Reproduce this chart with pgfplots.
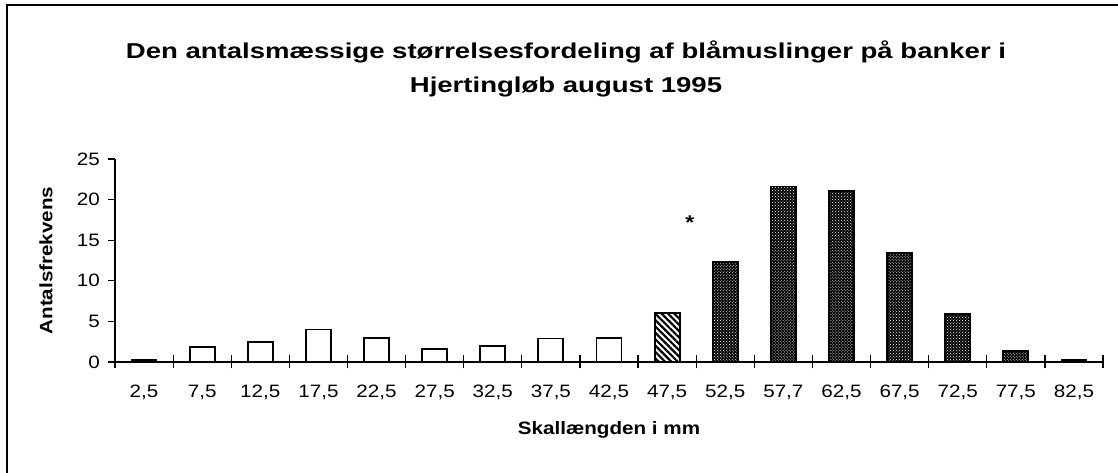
\documentclass[border=0pt]{standalone}
\usepackage{fontspec}
\setmainfont{Liberation Sans}[FakeStretch=1.15]
\newfontfamily\titlefont{Liberation Sans}[FakeStretch=1.28]
\usepackage{pgfplots}
\pgfplotsset{compat=1.18}
\usetikzlibrary{patterns,patterns.meta}

\pgfplotstableread{
x y
0 0.2
1 1.85
2 2.5
3 4.0
4 2.95
5 1.6
6 2.0
7 2.9
8 3.0
}\whitebars
\pgfplotstableread{
x y
9 6.0
}\hatchbars
\pgfplotstableread{
x y
10 12.3
11 21.6
12 21.1
13 13.4
14 5.9
15 1.4
16 0.25
}\dotbars

\begin{document}
\begin{tikzpicture}[x=1bp,y=1bp]
\path[use as bounding box] (0,0) rectangle (1118,473);
\draw[line width=2bp] (7,0) -- (7,468) -- (1118,468);
\node[font=\fontsize{21.6}{24}\titlefont\bfseries] at (566,421) {Den antalsmæssige størrelsesfordeling af blåmuslinger på banker i};
\node[font=\fontsize{21.6}{24}\titlefont\bfseries] at (566,386) {Hjertingløb august 1995};
\begin{axis}[
  at={(115bp,111bp)}, anchor=south west,
  scale only axis, width=988bp, height=203bp,
  xmin=-0.5, xmax=16.5, ymin=0, ymax=25,
  axis x line=bottom, axis y line=left,
  axis line style={line width=1.2bp,-},
  xtick={-0.5,0.5,...,16.5},
  x tick label as interval,
  xticklabels={{2,5},{7,5},{12,5},{17,5},{22,5},{27,5},{32,5},{37,5},{42,5},{47,5},{52,5},{57,7},{62,5},{67,5},{72,5},{77,5},{82,5}},
  ytick={0,5,...,25},
  tick align=outside,
  major tick length=7bp,
  tick style={line width=1.2bp, black},
  x tick style={/pgfplots/major tick length=13bp, yshift=6.5bp},
  /pgf/number format/assume math mode=true,
  ticklabel style={font=\fontsize{18}{20}\selectfont, inner sep=0pt},
  x tick label style={yshift=-16bp},
  y tick label style={xshift=-8bp},
  xlabel={Skallængden i mm},
  ylabel={Antalsfrekvens},
  label style={font=\fontsize{18}{20}\selectfont\bfseries},
  xlabel style={at={(axis description cs:0.5,-0.335)}, anchor=center},
  ylabel style={at={(axis description cs:-0.0698,0.5)}, anchor=center},
  ybar, bar width=25bp,
  clip=false,
]
\addplot[bar shift=0pt, draw=black, line width=1.8bp, fill=white] table[x=x,y=y] {\whitebars};
\addplot[bar shift=0pt, draw=black, line width=1.8bp, fill=white, pattern={Lines[angle=-45,distance=4.5bp,line width=2.2bp]}] table[x=x,y=y] {\hatchbars};
\addplot[bar shift=0pt, draw=black, line width=1.8bp, fill=black, postaction={pattern=crosshatch dots, pattern color=white}] table[x=x,y=y] {\dotbars};
\node[font=\fontsize{20}{20}\selectfont\bfseries] at (axis cs:9.39,17.2) {*};
\end{axis}
\end{tikzpicture}
\end{document}
